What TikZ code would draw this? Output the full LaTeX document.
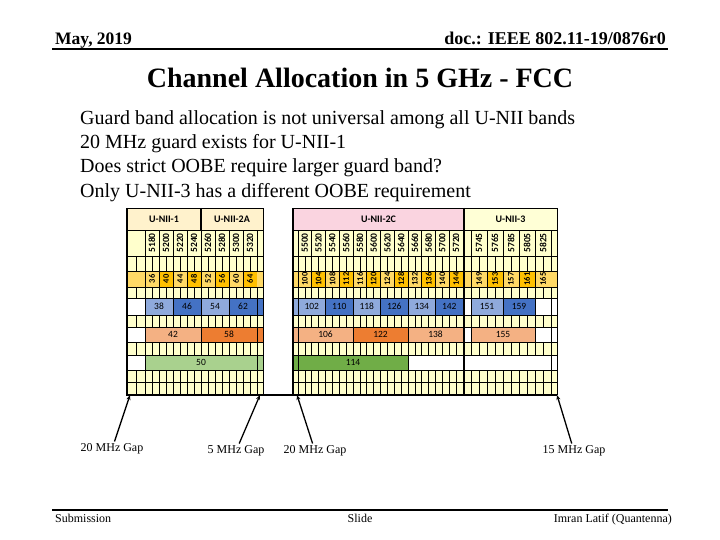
\documentclass[tikz,border=0pt]{standalone}
\usepackage{fontspec}
\setmainfont{Liberation Serif}
\newfontfamily\chartfont{Carlito}
\usetikzlibrary{arrows.meta}

\definecolor{gridyellow}{RGB}{255,255,204}
\definecolor{hdrcream}{RGB}{255,242,204}
\definecolor{hdrpink}{RGB}{250,212,224}
\definecolor{hdryellow}{RGB}{255,255,214}
\definecolor{chlight}{RGB}{255,217,102}
\definecolor{chdark}{RGB}{255,192,0}
\definecolor{bwlight}{RGB}{143,170,220}
\definecolor{bwdark}{RGB}{68,114,196}
\definecolor{ewlight}{RGB}{244,177,131}
\definecolor{ewdark}{RGB}{237,125,49}
\definecolor{swlight}{RGB}{169,209,142}
\definecolor{swdark}{RGB}{112,173,71}

\begin{document}
\begin{tikzpicture}[x=1pt, y=-1pt,
	gridline/.style={draw=black, line width=0.7pt},
	border/.style={draw=black, line width=1.8pt},
	bandhdr/.style={draw=black, line width=0.7pt, inner sep=0pt, minimum height=22pt, font=\chartfont\bfseries\fontsize{10}{12}\selectfont},
	freqlbl/.style={rotate=90, inner sep=0pt, font=\chartfont\bfseries\fontsize{9.5}{10}\selectfont},
	chlbl/.style={draw=black, line width=0.7pt, inner sep=0pt, minimum height=16pt, font=\chartfont\bfseries\fontsize{8.5}{9}\selectfont},
	chbox/.style={draw=black, line width=0.7pt, inner sep=0pt, font=\chartfont\fontsize{9.5}{11}\selectfont},
	gaplbl/.style={font=\fontsize{12}{14}\selectfont, inner sep=2pt},
	gaparrow/.style={line width=1.3pt, -{Stealth[length=5pt, width=4pt]}},
	]
	\useasboundingbox[fill=white] (0,0) rectangle (720,540);

	% page header and footer
	\node[anchor=base west, inner sep=0pt, font=\bfseries\fontsize{17.5}{20}\selectfont] (date) at (55,45) {May, 2019};
	\node[anchor=base east, inner sep=0pt, font=\bfseries\fontsize{18}{20}\selectfont] (docid) at (666,45) {doc.: IEEE 802.11-19/0876r0};
	\draw[line width=2pt] (52,49) -- (668,49);
	\draw[line width=1.5pt] (52,510) -- (668,510);
	\node[anchor=base west, inner sep=0pt, font=\fontsize{12}{14}\selectfont] (subm) at (55,522) {Submission};
	\node[anchor=base, inner sep=0pt, font=\fontsize{12}{14}\selectfont] (slide) at (360,522) {Slide};
	\node[anchor=base east, inner sep=0pt, font=\fontsize{12}{14}\selectfont] (author) at (672,522) {Imran Latif (Quantenna)};

	% title and bullets
	\node[anchor=base, inner sep=0pt, font=\bfseries\fontsize{28}{32}\selectfont] (title) at (360,88) {Channel Allocation in 5 GHz - FCC};
	\node[anchor=base west, inner sep=0pt, font=\fontsize{20}{24}\selectfont] (txt-1) at (80,125) {Guard band allocation is not universal among all U-NII bands};
	\node[anchor=base west, inner sep=0pt, font=\fontsize{20}{24}\selectfont] (txt-2) at (80,149) {20 MHz guard exists for U-NII-1};
	\node[anchor=base west, inner sep=0pt, font=\fontsize{20}{24}\selectfont] (txt-3) at (80,173) {Does strict OOBE require larger guard band?};
	\node[anchor=base west, inner sep=0pt, font=\fontsize{20}{24}\selectfont] (txt-4) at (80,197) {Only U-NII-3 has a different OOBE requirement};

	% grid background
	\fill[gridyellow] (127,230) rectangle (263,395);
	\fill[gridyellow] (293,230) rectangle (557,395);
	\foreach \k in {0,...,16}
		\draw[gridline] ({145+7*\k},256) -- ({145+7*\k},395);
	\draw[gridline] (136,256) -- (136,395);
	\foreach \k in {0,...,24}
		\draw[gridline] ({298+6.875*\k},256) -- ({298+6.875*\k},395);
	\foreach \k in {0,...,10}
		\draw[gridline] ({471+8*\k},256) -- ({471+8*\k},395);

	% white rows for the wide channels
	\foreach \ya/\yb in {298/315, 327/342, 355/370} {
		\fill[white] (127,\ya) rectangle (263,\yb);
		\fill[white] (293,\ya) rectangle (557,\yb);
		\draw[gridline] (145,\ya) -- (145,\yb);
		\draw[gridline] (551,\ya) -- (551,\yb);
	}

	% band headers
	\node[bandhdr, fill=hdrcream, minimum width=74pt] (unii-1) at (164,219) {U-NII-1};
	\node[bandhdr, fill=hdrcream, minimum width=62pt] (unii-2a) at (232,219) {U-NII-2A};
	\node[bandhdr, fill=hdrpink, minimum width=171pt] (unii-2c) at (378.5,219) {U-NII-2C};
	\node[bandhdr, fill=hdryellow, minimum width=93pt] (unii-3) at (510.5,219) {U-NII-3};

	% frequencies and 20 MHz channels
	\foreach \f [count=\i] in {5180,5200,...,5320} {
		\pgfmathsetmacro{\xc}{145+(\f-5170)*0.7}
		\pgfmathtruncatemacro{\ch}{(\f-5000)/5}
		\pgfmathsetmacro{\col}{ifthenelse(mod(\i,2)==1,"chlight","chdark")}
		\draw[gridline] ({\xc-7},230) rectangle ({\xc+7},256);
		\node[freqlbl] (f-\f) at (\xc,243) {\f};
		\node[chlbl, fill=\col, minimum width=14pt] (c-\ch) at (\xc,279) {\rotatebox{90}{\ch}};
	}
	\foreach \f [count=\i] in {5500,5520,...,5720} {
		\pgfmathsetmacro{\xc}{298+(\f-5490)*0.6875}
		\pgfmathtruncatemacro{\ch}{(\f-5000)/5}
		\pgfmathsetmacro{\col}{ifthenelse(mod(\i,2)==1,"chlight","chdark")}
		\draw[gridline] ({\xc-6.875},230) rectangle ({\xc+6.875},256);
		\node[freqlbl] (f-\f) at (\xc,243) {\f};
		\node[chlbl, fill=\col, minimum width=13.75pt] (c-\ch) at (\xc,279) {\rotatebox{90}{\ch}};
	}
	\foreach \f [count=\i] in {5745,5765,...,5825} {
		\pgfmathsetmacro{\xc}{471+(\f-5735)*0.8}
		\pgfmathtruncatemacro{\ch}{(\f-5000)/5}
		\pgfmathsetmacro{\col}{ifthenelse(mod(\i,2)==1,"chlight","chdark")}
		\draw[gridline] ({\xc-8},230) rectangle ({\xc+8},256);
		\node[freqlbl] (f-\f) at (\xc,243) {\f};
		\node[chlbl, fill=\col, minimum width=16pt] (c-\ch) at (\xc,279) {\rotatebox{90}{\ch}};
	}
	\fill[chlight] (127,271) rectangle (145,287);
	\fill[chlight] (257,271) rectangle (263,287);
	\fill[chlight] (293,271) rectangle (298,287);
	\fill[chlight] (463,271) rectangle (471,287);
	\fill[chlight] (551,271) rectangle (557,287);

	% 40 MHz channels
	\foreach \f/\c/\col in {5170/38/bwlight, 5210/46/bwdark, 5250/54/bwlight, 5290/62/bwdark}
		\node[chbox, fill=\col, minimum width=28pt, minimum height=17pt] (w40-\c) at ({159+(\f-5170)*0.7},306.5) {\c};
	\foreach \f/\c/\col in {5490/102/bwlight, 5530/110/bwdark, 5570/118/bwlight, 5610/126/bwdark, 5650/134/bwlight, 5690/142/bwdark}
		\node[chbox, fill=\col, minimum width=27.5pt, minimum height=17pt] (w40-\c) at ({311.75+(\f-5490)*0.6875},306.5) {\c};
	\foreach \f/\c/\col in {5735/151/bwlight, 5775/159/bwdark}
		\node[chbox, fill=\col, minimum width=32pt, minimum height=17pt] (w40-\c) at ({487+(\f-5735)*0.8},306.5) {\c};

	% 80 MHz channels
	\foreach \f/\c/\col in {5170/42/ewlight, 5250/58/ewdark}
		\node[chbox, fill=\col, minimum width=56pt, minimum height=15pt] (w80-\c) at ({173+(\f-5170)*0.7},334.5) {\c};
	\foreach \f/\c/\col in {5490/106/ewlight, 5570/122/ewdark, 5650/138/ewlight}
		\node[chbox, fill=\col, minimum width=55pt, minimum height=15pt] (w80-\c) at ({325.5+(\f-5490)*0.6875},334.5) {\c};
	\node[chbox, fill=ewlight, minimum width=64pt, minimum height=15pt] (w80-155) at (503,334.5) {155};

	% 160 MHz channels
	\node[chbox, fill=swlight, minimum width=112pt, minimum height=15pt] (w160-50) at (201,362.5) {50};
	\node[chbox, fill=swdark, minimum width=110pt, minimum height=15pt] (w160-114) at (353,362.5) {114};

	% narrow edge cells
	\filldraw[gridline, fill=bwdark] (257,298) rectangle (263,315);
	\filldraw[gridline, fill=ewdark] (257,327) rectangle (263,342);
	\filldraw[gridline, fill=swlight] (257,355) rectangle (263,370);
	\filldraw[gridline, fill=bwlight] (293,298) rectangle (298,315);
	\filldraw[gridline, fill=ewlight] (293,327) rectangle (298,342);
	\filldraw[gridline, fill=swdark] (293,355) rectangle (298,370);

	% row lines and borders
	\foreach \y in {230,256,271,287,298,315,327,342,355,370,382,395} {
		\draw[gridline] (127,\y) -- (263,\y);
		\draw[gridline] (293,\y) -- (557,\y);
	}
	\draw[gridline] (263,230) -- (263,395);
	\draw[gridline] (557,230) -- (557,395);
	\draw[line width=1.2pt] (201,208) -- (201,230);
	\draw[border] (127,208) -- (127,395) -- (557,395);
	\draw[border] (293,208) -- (293,395);
	\draw[border] (464,208) -- (464,395);

	% guard band gaps
	\coordinate (gap-a) at (130,395);
	\coordinate (gap-b) at (260,395);
	\coordinate (gap-c) at (297,395);
	\coordinate (gap-d) at (557,395);
	\node[gaplbl] (lbl-a) at (112,449) {20 MHz Gap};
	\node[gaplbl] (lbl-b) at (236,451) {5 MHz Gap};
	\node[gaplbl] (lbl-c) at (315,451) {20 MHz Gap};
	\node[gaplbl] (lbl-d) at (574,451) {15 MHz Gap};
	\draw[gaparrow] (lbl-a) -- (gap-a);
	\draw[gaparrow] (lbl-b) -- (gap-b);
	\draw[gaparrow] (lbl-c) -- (gap-c);
	\draw[gaparrow] (lbl-d) -- (gap-d);
\end{tikzpicture}
\end{document}
